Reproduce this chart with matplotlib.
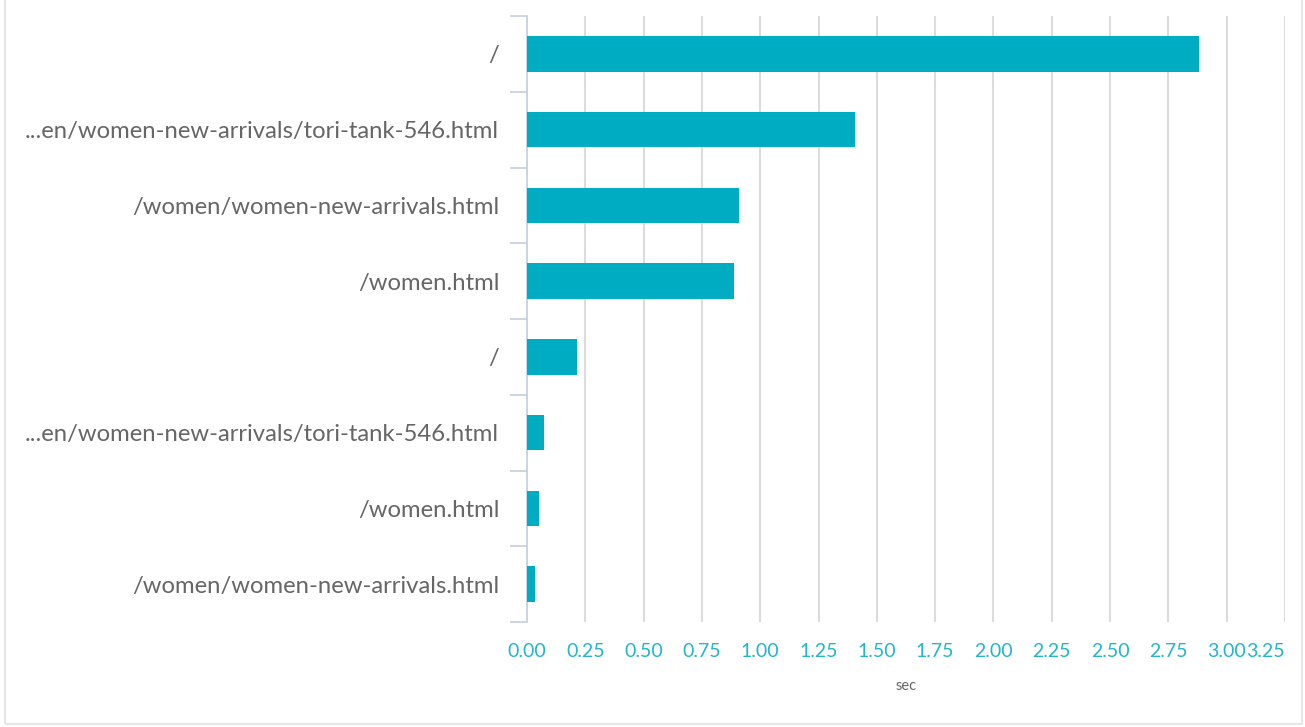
import numpy as np
import matplotlib.pyplot as plt
from matplotlib.patches import Rectangle

plt.rcParams['font.family'] = ['Lato', 'DejaVu Sans']

# pages, top to bottom
pages = ["/", "...en/women-new-arrivals/tori-tank-546.html",
         "/women/women-new-arrivals.html", "/women.html",
         "/", "...en/women-new-arrivals/tori-tank-546.html",
         "/women.html", "/women/women-new-arrivals.html"]
# time in seconds
secs = [2.88, 1.405, 0.908, 0.886, 0.213, 0.071, 0.050, 0.034]
xticks = np.arange(0, 3.26, 0.25)

fig = plt.figure(figsize=(13.05, 7.27), dpi=100)
ax = fig.add_axes([527/1305, 1-622/727, (1285-527)/1305, (622-16)/727])

y = np.arange(len(pages))
ax.barh(y, secs, height=0.47, color="#00acc1", zorder=3)
ax.set_ylim(len(pages)-0.5, -0.5)
ax.set_xlim(0, 3.25)

ax.set_xticks(xticks)
ax.set_xticklabels([f"{t:.2f}" for t in xticks])
ax.tick_params(axis="x", length=0, pad=15, labelsize=14, labelcolor="#22b6c9")
ax.xaxis.grid(True, color="#dcdcdc", linewidth=1.5, zorder=0)
# last label is pulled inside the chart, like the original
ax.get_xticklabels()[-1].set_horizontalalignment("right")

ax.set_yticks(y)
ax.set_yticklabels(pages)
ax.tick_params(axis="y", which="major", length=0, pad=20, labelsize=17.2, labelcolor="#666666")
ax.set_yticks(np.arange(-0.5, len(pages), 1), minor=True)
ax.tick_params(axis="y", which="minor", length=12.5, width=1.3, color="#c8d3e2")

for s in ["top", "right", "bottom"]:
    ax.spines[s].set_visible(False)
ax.spines["left"].set_color("#c8d3e2")
ax.spines["left"].set_linewidth(1.3)

ax.set_xlabel("sec", fontsize=10.5, color="#666666", labelpad=14)

# light frame round the whole chart
fig.patches.append(Rectangle((5/1305, 3/727), 1297/1305, 1.0, transform=fig.transFigure,
                             fill=False, edgecolor="#e6e6e6", linewidth=1.5))

fig.savefig("out.png", dpi=100)
